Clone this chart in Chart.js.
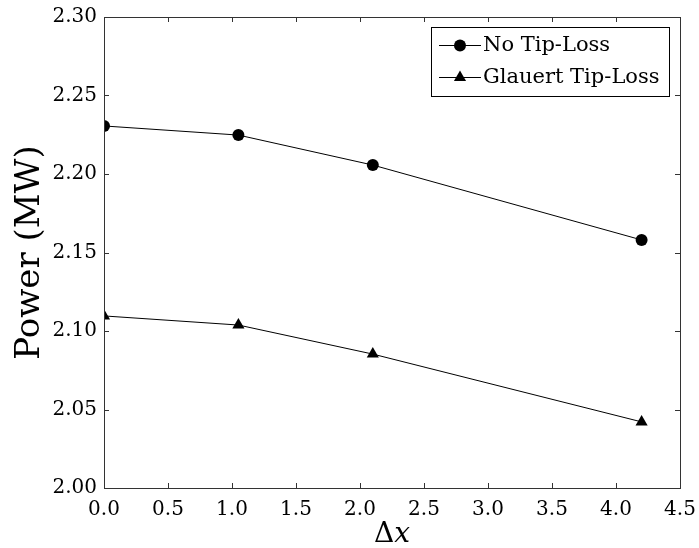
<!DOCTYPE html>
<html>
<head>
<meta charset="utf-8">
<script src="https://cdn.jsdelivr.net/npm/chart.js@4"></script>
<style>
  html, body { margin: 0; padding: 0; background: #fff; }
  #wrap { width: 699px; height: 548px; }
</style>
</head>
<body>
<div id="wrap"><canvas id="powerChart" width="699" height="548"></canvas></div>
<script>
// grid spacing (Δx) and computed rotor power (MW)
const dx = [0.0, 1.05, 2.1, 4.2];
const powerNoTipLoss = [2.2306, 2.2248, 2.2057, 2.1580];
const powerGlauert = [2.1096, 2.1038, 2.0853, 2.0421];
const seriesLabels = ['No Tip-Loss', 'Glauert Tip-Loss'];

const SERIF = '"DejaVu Serif", "Liberation Serif", serif';
const FRAME = '#333333';

const toPoints = (ys) => dx.map((x, i) => ({ x: x, y: ys[i] }));

// box frame with inward ticks on all four sides
const framePlugin = {
    id: 'frame',
    afterDraw(chart) {
        const { ctx, chartArea: a, scales } = chart;
        const len = 5;
        ctx.save();
        ctx.strokeStyle = FRAME;
        ctx.lineWidth = 1;
        ctx.strokeRect(a.left + 0.5, a.top + 0.5, a.right - a.left, a.bottom - a.top);
        ctx.beginPath();
        scales.x.ticks.forEach((t) => {
            const px = Math.round(scales.x.getPixelForValue(t.value)) + 0.5;
            ctx.moveTo(px, a.bottom); ctx.lineTo(px, a.bottom - len);
            ctx.moveTo(px, a.top); ctx.lineTo(px, a.top + len);
        });
        scales.y.ticks.forEach((t) => {
            const py = Math.round(scales.y.getPixelForValue(t.value)) + 0.5;
            ctx.moveTo(a.left, py); ctx.lineTo(a.left + len, py);
            ctx.moveTo(a.right, py); ctx.lineTo(a.right - len, py);
        });
        ctx.stroke();
        ctx.restore();
    }
};

// axis titles: "Power (MW)" and Δx with an italic x
const titlePlugin = {
    id: 'titles',
    afterDraw(chart) {
        const { ctx, chartArea: a } = chart;
        ctx.save();
        ctx.fillStyle = '#000';
        ctx.translate(30, (a.top + a.bottom) / 2);
        ctx.rotate(-Math.PI / 2);
        ctx.font = '34px ' + SERIF;
        ctx.textAlign = 'center';
        ctx.textBaseline = 'middle';
        ctx.fillText('Power (MW)', 0, 0);
        ctx.restore();

        ctx.save();
        ctx.fillStyle = '#000';
        ctx.textBaseline = 'alphabetic';
        ctx.font = '28px ' + SERIF;
        const dW = ctx.measureText('Δ').width;
        ctx.font = 'italic 28px ' + SERIF;
        const xW = ctx.measureText('x').width;
        const cx = (a.left + a.right) / 2;
        const start = cx - (dW + xW) / 2;
        ctx.font = '28px ' + SERIF;
        ctx.fillText('Δ', start, 542);
        ctx.font = 'italic 28px ' + SERIF;
        ctx.fillText('x', start + dW, 542);
        ctx.restore();
    }
};

// legend box in the upper right, line + marker samples
const legendPlugin = {
    id: 'boxLegend',
    afterDraw(chart) {
        const { ctx } = chart;
        const box = { x: 431.5, y: 27.5, w: 238, h: 69 };
        const rows = [45, 77];
        ctx.save();
        ctx.fillStyle = '#fff';
        ctx.fillRect(box.x, box.y, box.w, box.h);
        ctx.strokeStyle = '#000';
        ctx.lineWidth = 1;
        ctx.strokeRect(box.x, box.y, box.w, box.h);
        chart.data.datasets.forEach((ds, i) => {
            const y = rows[i];
            ctx.strokeStyle = '#000';
            ctx.lineWidth = 1;
            ctx.beginPath();
            ctx.moveTo(439, y + 0.5);
            ctx.lineTo(481, y + 0.5);
            ctx.stroke();
            ctx.fillStyle = '#000';
            Chart.helpers.drawPoint(ctx, {
                pointStyle: ds.pointStyle,
                radius: ds.pointRadius,
                rotation: 0,
                borderWidth: 0
            }, 460, y + 0.5);
            ctx.fillStyle = '#000';
            ctx.font = '21px ' + SERIF;
            ctx.textAlign = 'left';
            ctx.textBaseline = 'middle';
            ctx.fillText(ds.label, 483, y + 1);
        });
        ctx.restore();
    }
};

const lineStyle = {
    borderColor: '#000',
    backgroundColor: '#000',
    borderWidth: 1,
    pointBorderWidth: 0,
    pointHoverRadius: 0,
    fill: false,
    tension: 0
};

new Chart(document.getElementById('powerChart'), {
    type: 'line',
    data: {
        datasets: [
            Object.assign({
                label: seriesLabels[0],
                data: toPoints(powerNoTipLoss),
                pointStyle: 'circle',
                pointRadius: 6
            }, lineStyle),
            Object.assign({
                label: seriesLabels[1],
                data: toPoints(powerGlauert),
                pointStyle: 'triangle',
                pointRadius: 7
            }, lineStyle)
        ]
    },
    options: {
        responsive: false,
        animation: false,
        layout: { padding: { left: 0, right: 19, top: 17, bottom: 0 } },
        plugins: {
            legend: { display: false },
            tooltip: { enabled: false }
        },
        scales: {
            x: {
                type: 'linear',
                min: 0,
                max: 4.5,
                grid: { display: false, drawTicks: false },
                border: { display: false },
                ticks: {
                    stepSize: 0.5,
                    padding: 10,
                    color: '#000',
                    font: { family: SERIF, size: 20 },
                    maxRotation: 0,
                    callback: (v) => Number(v).toFixed(1)
                },
                afterFit: (s) => {
                    s.height = 60;
                    s.paddingLeft = 0;
                    s.paddingRight = 0;
                }
            },
            y: {
                min: 2.0,
                max: 2.3,
                grid: { display: false, drawTicks: false },
                border: { display: false },
                ticks: {
                    stepSize: 0.05,
                    padding: 7,
                    color: '#000',
                    font: { family: SERIF, size: 20 },
                    callback: (v) => Number(v).toFixed(2)
                },
                afterFit: (s) => {
                    s.width = 104;
                    s.paddingTop = 0;
                    s.paddingBottom = 0;
                }
            }
        }
    },
    plugins: [framePlugin, titlePlugin, legendPlugin]
});
</script>
</body>
</html>
